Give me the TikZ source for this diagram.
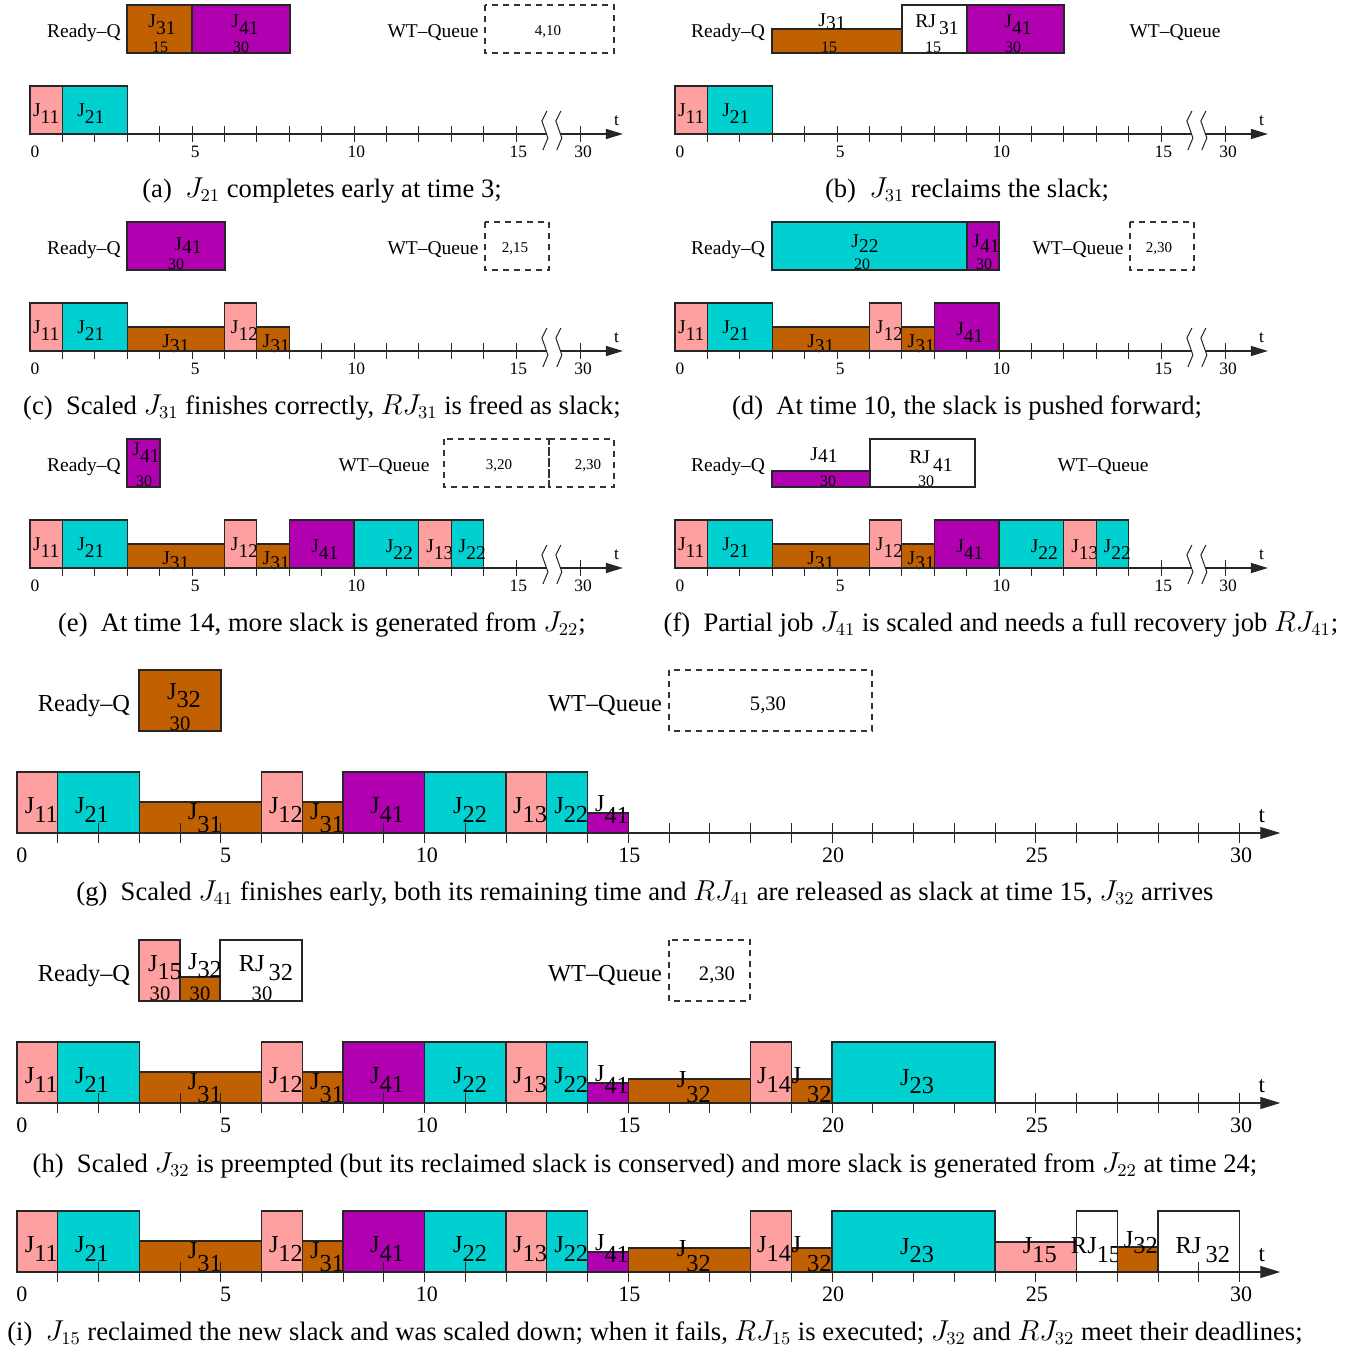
\documentclass[tikz,border=0pt]{standalone}
\usepackage{fontspec}
\setmainfont{Liberation Serif}
\usetikzlibrary{arrows.meta}
\definecolor{cpink}{HTML}{FFA0A0}
\definecolor{ccyan}{HTML}{00D0D0}
\definecolor{cbrown}{HTML}{C06000}
\definecolor{cpurp}{HTML}{B000B0}
\newcommand\sj[3][0.4em]{#2\raisebox{-#1}{#3}}
\newcommand\tb[7]{\draw[#1] (#2,0) rectangle (#3,-#4); \node[anchor=base] at ({(#2+#3)/2+#6},#7) {#5};}
% small timeline pieces
\newcommand\smA{\tb{pk}{0}{1}{48}{\sj{J}{11}}{0}{-18}\tb{cy}{1}{3}{48}{\sj{J}{21}}{-0.12}{-18}}
\newcommand\smC{\tb{br}{3}{6}{24}{\sj[0.3em]{J}{31}}{0}{-4}\tb{pk}{6}{7}{48}{\sj{J}{12}}{0.12}{-18}\tb{br}{7}{8}{24}{\sj[0.3em]{J}{31}}{0.1}{-4}}
\newcommand\smD{\tb{pu}{8}{10}{48}{\sj{J}{41}}{0.1}{-16}}
\newcommand\smE{\tb{cy}{10}{12}{48}{\sj{J}{22}}{0.4}{-16}\tb{pk}{12}{13}{48}{\sj{J}{13}}{0.15}{-16}\tb{cy}{13}{14}{48}{\sj{J}{22}}{0.15}{-16}}
\newcommand\smticks{\foreach \k in {1,...,15}{\draw[tk] (\k,-8)--(\k,8);}\draw[tk] (17,-8)--(17,8);}
\newcommand\smaxis{%
 \draw[ax] (0,0)--(15.94,0);
 \draw[ax,-{Triangle[length=8.5pt,width=5pt]}] (16.37,0)--(18.3,0);
 \foreach \b in {15.80,16.23}{\draw[tk] (\b+0.154,-23)--(\b,-13)--(\b+0.185,4)--(\b+0.03,16);}
 \foreach \v/\p in {0/0.15,5/5.1,10/10.07,15/15.07,30/17.07}{\node[anum] at (\p,18) {\v};}
 \node[anum] at (18.1,-13) {t};}
% big timeline pieces
\newcommand\bgA{%
 \tb{pk}{0}{1}{61}{\sj{J}{11}}{0.1}{-20}%
 \tb{cy}{1}{3}{61}{\sj{J}{21}}{-0.16}{-20}%
 \tb{br}{3}{6}{31}{\sj[0.57em]{J}{31}}{0.11}{-14}%
 \tb{pk}{6}{7}{61}{\sj{J}{12}}{0.1}{-20}%
 \tb{br}{7}{8}{31}{\sj[0.57em]{J}{31}}{0.11}{-14}%
 \tb{pu}{8}{10}{61}{\sj{J}{41}}{0.08}{-20}%
 \tb{cy}{10}{12}{61}{\sj{J}{22}}{0.12}{-20}%
 \tb{pk}{12}{13}{61}{\sj{J}{13}}{0.09}{-20}%
 \tb{cy}{13}{14}{61}{\sj{J}{22}}{0.1}{-20}%
 \tb{pu}{14}{15}{20}{\sj[0.5em]{J}{41}}{0.1}{-22}}
\newcommand\bgH{%
 \tb{br}{15}{18}{24}{\sj[0.65em]{J}{32}}{0.11}{-16}%
 \tb{pk}{18}{19}{61}{\sj{J}{14}}{0.08}{-20}%
 \tb{br}{19}{20}{24}{\sj[0.8em]{J\kern3pt}{32}}{0}{-20}%
 \tb{cy}{20}{24}{61}{\sj[0.33em]{J}{23}}{0.09}{-18}}
\newcommand\bgI{%
 \tb{pk}{24}{26}{30}{\sj{J}{15}}{0.1}{-19}%
 \tb{wh}{26}{27}{61}{\sj{RJ}{15}}{-0.02}{-19}%
 \tb{br}{27}{28}{25}{\sj[0.25em]{J}{32}}{0.08}{-25}%
 \tb{wh}{28}{30}{61}{\sj[0.37em]{RJ\,}{32}}{0.1}{-19}}
\newcommand\bgticks{\foreach \k in {1,...,30}{\draw[tk] (\k,-10)--(\k,10);}}
\newcommand\bgaxis{%
 \draw[ax,-{Triangle[length=10pt,width=6pt]}] (0,0)--(31,0);
 \foreach \v/\p in {0/0.12,5/5.12,10/10.06,15/15.03,20/20.03,25/25.03,30/30.04}{\node[bnum] at (\p,22) {\v};}
 \node[bt] at (30.55,-17) {t};}
\begin{document}
\begin{tikzpicture}[x=0.5pt,y=-0.5pt,
  box/.style={draw=black!85,line width=0.6pt},
  pk/.style={box,fill=cpink}, cy/.style={box,fill=ccyan},
  br/.style={box,fill=cbrown}, pu/.style={box,fill=cpurp},
  wh/.style={box,fill=white},
  tk/.style={line width=0.5pt,draw=black!85},
  ax/.style={line width=0.6pt,draw=black!85},
  wt/.style={draw=black!80,line width=0.55pt,dash pattern=on 3pt off 2.5pt},
  sfont/.style={font=\fontsize{9.75}{11}\selectfont},
  snum/.style={font=\fontsize{8}{9}\selectfont},
  wnum/.style={font=\fontsize{7.5}{9}\selectfont},
  anum/.style={font=\fontsize{8.7}{10}\selectfont},
  bfont/.style={font=\fontsize{12.2}{14}\selectfont},
  bnum/.style={font=\fontsize{11}{13}\selectfont},
  bbnum/.style={font=\fontsize{10.3}{12}\selectfont},
  bwnum/.style={font=\fontsize{10.3}{12}\selectfont},
  bt/.style={font=\fontsize{11.5}{13}\selectfont},
  captxt/.style={font=\fontsize{13.3}{16}\selectfont,anchor=base}]
\useasboundingbox[fill=white] (0,0) rectangle (1356,1349);

% ---------------- (a)
\node[sfont,anchor=base] (rqa) at (84,37) {Ready--Q};
\draw[br] (127,5) rectangle (192,53);
\draw[pu] (192,5) rectangle (290,53);
\node[sfont,anchor=base] at (162,27) {\sj{J}{31}};
\node[snum,anchor=base] at (160,52) {15};
\node[sfont,anchor=base] at (245,27) {\sj{J}{41}};
\node[snum,anchor=base] at (241,52) {30};
\node[sfont,anchor=base] (wta) at (433,37) {WT--Queue};
\draw[wt] (485,5) rectangle (614,53);
\node[wnum,anchor=base] at (548,35) {4,10};
\begin{scope}[shift={(30,134)},x=16.2pt,every node/.style={sfont}]
 \smticks \smA \smaxis
\end{scope}
\node[captxt] (capa) at (322,197) {(a)\enspace $J_{21}$ completes early at time 3;};

% ---------------- (b)
\node[sfont,anchor=base] (rqb) at (728,37) {Ready--Q};
\draw[br] (772,29) rectangle (902,53);
\draw[wh] (902,5) rectangle (967,53);
\draw[pu] (967,5) rectangle (1064,53);
\node[sfont,anchor=base] at (832,26) {\sj[0.18em]{J}{31}};
\node[snum,anchor=base] at (829,52) {15};
\node[sfont,anchor=base] at (937,27) {\sj{RJ\,}{31}};
\node[snum,anchor=base] at (933,52) {15};
\node[sfont,anchor=base] at (1018,27) {\sj{J}{41}};
\node[snum,anchor=base] at (1013,52) {30};
\node[sfont,anchor=base] (wtb) at (1175,37) {WT--Queue};
\begin{scope}[shift={(675,134)},x=16.2pt,every node/.style={sfont}]
 \smticks \smA \smaxis
\end{scope}
\node[captxt] (capb) at (967,197) {(b)\enspace $J_{31}$ reclaims the slack;};

% ---------------- (c)
\node[sfont,anchor=base] (rqc) at (84,254) {Ready--Q};
\draw[pu] (127,222) rectangle (225,270);
\node[sfont,anchor=base] at (188,250) {\sj[0.2em]{J}{41}};
\node[snum,anchor=base] at (176,269) {30};
\node[sfont,anchor=base] (wtc) at (433,254) {WT--Queue};
\draw[wt] (485,222) rectangle (549,270);
\node[wnum,anchor=base] at (515,252) {2,15};
\begin{scope}[shift={(30,351)},x=16.2pt,every node/.style={sfont}]
 \smticks \smA \smC \smaxis
\end{scope}
\node[captxt] (capc) at (322,414) {(c)\enspace Scaled $J_{31}$ finishes correctly, $RJ_{31}$ is freed as slack;};

% ---------------- (d)
\node[sfont,anchor=base] (rqd) at (728,254) {Ready--Q};
\draw[cy] (772,222) rectangle (967,270);
\draw[pu] (967,222) rectangle (999,270);
\node[sfont,anchor=base] at (865,247) {\sj[0.3em]{J}{22}};
\node[snum,anchor=base] at (862,269) {20};
\node[sfont,anchor=base] at (986,247) {\sj[0.3em]{J}{41}};
\node[snum,anchor=base] at (984,269) {30};
\node[sfont,anchor=base] (wtd) at (1078,254) {WT--Queue};
\draw[wt] (1130,222) rectangle (1194,270);
\node[wnum,anchor=base] at (1159,252) {2,30};
\begin{scope}[shift={(675,351)},x=16.2pt,every node/.style={sfont}]
 \smticks \smA \smC \smD \smaxis
\end{scope}
\node[captxt] (capd) at (967,414) {(d)\enspace At time 10, the slack is pushed forward;};

% ---------------- (e)
\node[sfont,anchor=base] (rqe) at (84,471) {Ready--Q};
\draw[pu] (127,439) rectangle (160,487);
\node[sfont,anchor=base] at (146,455) {\sj{J}{41}};
\node[snum,anchor=base] at (144,486) {30};
\node[sfont,anchor=base] (wte) at (384,471) {WT--Queue};
\draw[wt] (444,439) rectangle (549,487);
\draw[wt] (549,439) rectangle (614,487);
\node[wnum,anchor=base] at (499,469) {3,20};
\node[wnum,anchor=base] at (588,469) {2,30};
\begin{scope}[shift={(30,568)},x=16.2pt,every node/.style={sfont}]
 \smticks \smA \smC \smD \smE \smaxis
\end{scope}
\node[captxt] (cape) at (322,631) {(e)\enspace At time 14, more slack is generated from $J_{22}$;};

% ---------------- (f)
\node[sfont,anchor=base] (rqf) at (728,471) {Ready--Q};
\draw[pu] (772,471) rectangle (870,487);
\draw[wh] (870,439) rectangle (975,487);
\node[sfont,anchor=base] at (824,460) {\sj[0.15em]{J}{41}};
\node[snum,anchor=base] at (828,486) {30};
\node[sfont,anchor=base] at (931,463) {\sj[0.45em]{RJ\,}{41}};
\node[snum,anchor=base] at (926,486) {30};
\node[sfont,anchor=base] (wtf) at (1103,471) {WT--Queue};
\begin{scope}[shift={(675,568)},x=16.2pt,every node/.style={sfont}]
 \smticks \smA \smC \smD \smE \smaxis
\end{scope}
\node[captxt] (capf) at (1001,631) {(f)\enspace Partial job $J_{41}$ is scaled and needs a full recovery job $RJ_{41}$;};

% ---------------- (g)
\node[bfont,anchor=base] (rqg) at (84,711) {Ready--Q};
\draw[br] (139,670) rectangle (221,731);
\node[bfont,anchor=base] at (184,699) {\sj[0.33em]{J}{32}};
\node[bbnum,anchor=base] at (180,730) {30};
\node[bfont,anchor=base] (wtg) at (605,711) {WT--Queue};
\draw[wt] (669,670) rectangle (872,731);
\node[bwnum,anchor=base] at (768,710) {5,30};
\begin{scope}[shift={(17,833)},x=20.375pt,every node/.style={bfont}]
 \bgA \bgticks \bgaxis
\end{scope}
\node[captxt] (capg) at (645,900) {(g)\enspace Scaled $J_{41}$ finishes early, both its remaining time and $RJ_{41}$ are released as slack at time 15, $J_{32}$ arrives};

% ---------------- (h)
\node[bfont,anchor=base] (rqh) at (84,981) {Ready--Q};
\draw[pk] (139,940) rectangle (180,1001);
\draw[br] (180,977) rectangle (220,1001);
\draw[wh] (220,940) rectangle (302,1001);
\node[bfont,anchor=base] at (165,971) {\sj[0.33em]{J}{15}};
\node[bbnum,anchor=base] at (160,1000) {30};
\node[bfont,anchor=base] at (205,969) {\sj[0.33em]{J}{32}};
\node[bbnum,anchor=base] at (200,1000) {30};
\node[bfont,anchor=base] at (266,971) {\sj{RJ\,}{32}};
\node[bbnum,anchor=base] at (262,1000) {30};
\node[bfont,anchor=base] (wth) at (605,981) {WT--Queue};
\draw[wt] (669,940) rectangle (750,1001);
\node[bwnum,anchor=base] at (717,980) {2,30};
\begin{scope}[shift={(17,1103)},x=20.375pt,every node/.style={bfont}]
 \bgA \bgticks \bgH \bgaxis
\end{scope}
\node[captxt] (caph) at (645,1172) {(h)\enspace Scaled $J_{32}$ is preempted (but its reclaimed slack is conserved) and more slack is generated from $J_{22}$ at time 24;};

% ---------------- (i)
\begin{scope}[shift={(17,1272)},x=20.375pt,every node/.style={bfont}]
 \bgA \bgticks \bgH \bgI \bgaxis
 \draw[tk] (29,-10)--(29,10);
\end{scope}
\node[captxt] (capi) at (655,1340) {(i)\enspace $J_{15}$ reclaimed the new slack and was scaled down; when it fails, $RJ_{15}$ is executed; $J_{32}$ and $RJ_{32}$ meet their deadlines;};
\end{tikzpicture}
\end{document}
